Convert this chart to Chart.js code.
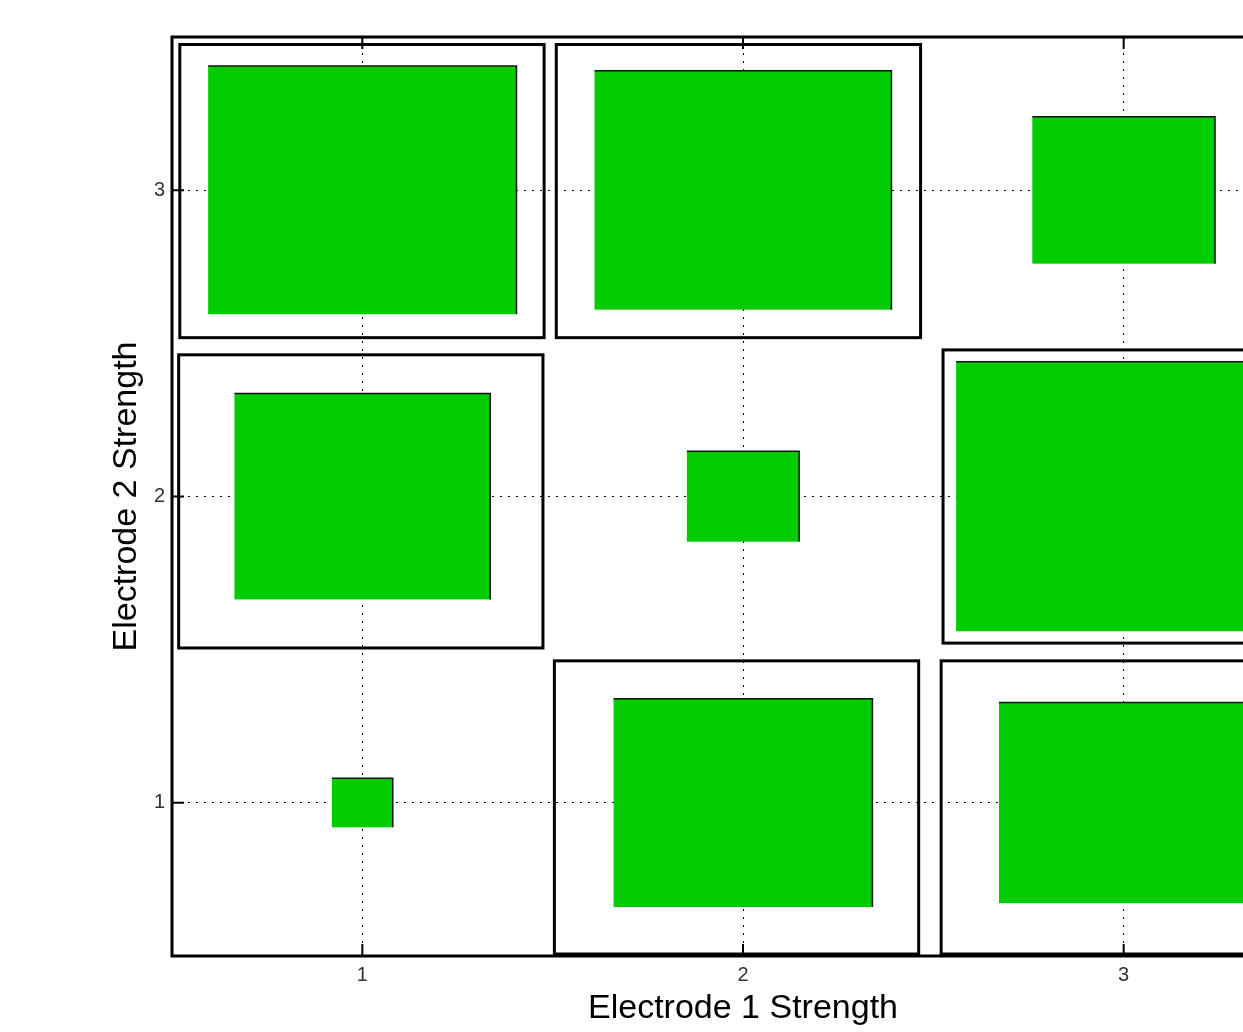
<!DOCTYPE html>
<html>
<head>
<meta charset="utf-8">
<script src="https://cdn.jsdelivr.net/npm/chart.js@4/dist/chart.umd.min.js"></script>
<style>
  html, body { margin: 0; padding: 0; background: #fff; overflow: hidden; }
  #wrap { width: 1330px; height: 1032px; }
</style>
</head>
<body>
<div id="wrap"><canvas id="c" width="1330" height="1032"></canvas></div>
<script>
// Stimulation levels on each axis
const electrode1Levels = [1, 2, 3];
const electrode2Levels = [1, 2, 3];
const tickLabels = ['1', '2', '3'];

// Side length of each response tile (data units), one list per Electrode 2 level,
// ordered by Electrode 1 level
const tileSideE2_1 = [0.16, 0.68, 0.655];
const tileSideE2_2 = [0.672, 0.295, 0.88];
const tileSideE2_3 = [0.81, 0.78, 0.48];

// Centres of the framed (outlined) cells
const frameCenterE1 = [0.999, 1.988, 0.996, 3.004, 1.983, 2.999];
const frameCenterE2 = [2.997, 2.997, 1.984, 2.0, 0.985, 0.985];
const frameSide = 0.957;

const FONT = "'Liberation Sans', Arial, sans-serif";

const tilePoints = [];
[tileSideE2_1, tileSideE2_2, tileSideE2_3].forEach((row, r) => {
  row.forEach((s, c) => tilePoints.push({ x: electrode1Levels[c], y: electrode2Levels[r], s }));
});
const framePoints = frameCenterE1.map((x, i) => ({ x, y: frameCenterE2[i], s: frameSide }));

// Draws every dataset point as a square of side p.s centred on (p.x, p.y)
const squaresPlugin = {
  id: 'squares',
  afterDatasetsDraw(chart) {
    const { ctx, scales: { x, y } } = chart;
    ctx.save();
    chart.data.datasets.forEach(ds => {
      ds.data.forEach(p => {
        const l = x.getPixelForValue(p.x - p.s / 2);
        const r = x.getPixelForValue(p.x + p.s / 2);
        const t = y.getPixelForValue(p.y + p.s / 2);
        const b = y.getPixelForValue(p.y - p.s / 2);
        if (ds.kind === 'frame') {
          ctx.lineWidth = 3;
          ctx.strokeStyle = '#000';
          ctx.strokeRect(l, t, r - l, b - t);
        } else {
          ctx.fillStyle = '#00cc00';
          ctx.fillRect(l, t, r - l, b - t);
          // dark edge along the top and right sides
          ctx.lineWidth = 1.5;
          ctx.strokeStyle = '#111';
          ctx.beginPath();
          ctx.moveTo(l, t);
          ctx.lineTo(r, t);
          ctx.lineTo(r, b);
          ctx.stroke();
        }
      });
    });
    ctx.restore();
  },
  afterDraw(chart) {
    const { ctx, chartArea: a, scales: { x, y } } = chart;
    ctx.save();
    ctx.strokeStyle = '#000';
    // inward tick marks on all four sides
    ctx.lineWidth = 2;
    const len = 12;
    x.ticks.forEach(t => {
      const px = x.getPixelForValue(t.value);
      ctx.beginPath();
      ctx.moveTo(px, a.bottom); ctx.lineTo(px, a.bottom - len);
      ctx.moveTo(px, a.top); ctx.lineTo(px, a.top + len);
      ctx.stroke();
    });
    y.ticks.forEach(t => {
      const py = y.getPixelForValue(t.value);
      ctx.beginPath();
      ctx.moveTo(a.left, py); ctx.lineTo(a.left + len, py);
      ctx.moveTo(a.right, py); ctx.lineTo(a.right - len, py);
      ctx.stroke();
    });
    // axes box
    ctx.lineWidth = 3;
    ctx.strokeRect(a.left, a.top, a.right - a.left, a.bottom - a.top);
    ctx.restore();
  }
};

const setTicks = scale => {
  scale.ticks = tickLabels.map(v => ({ value: Number(v), label: v }));
};

new Chart(document.getElementById('c'), {
  type: 'scatter',
  data: {
    datasets: [
      { kind: 'frame', data: framePoints, pointRadius: 0, pointHoverRadius: 0 },
      { kind: 'tile', data: tilePoints, pointRadius: 0, pointHoverRadius: 0 }
    ]
  },
  options: {
    responsive: false,
    animation: false,
    devicePixelRatio: 1,
    layout: { padding: { top: 37, right: 16, left: 0, bottom: 0 } },
    plugins: { legend: { display: false }, tooltip: { enabled: false } },
    events: [],
    scales: {
      x: {
        type: 'linear',
        min: 0.5,
        max: 3.5,
        afterBuildTicks: setTicks,
        afterFit: s => { s.height = 76; },
        grid: { color: '#000', lineWidth: 1, drawTicks: false },
        border: { display: false, dash: [2, 6] },
        ticks: { font: { size: 20, family: FONT }, color: '#333', padding: 7, maxRotation: 0 },
        title: {
          display: true, text: 'Electrode 1 Strength', color: '#000',
          font: { size: 34, family: FONT }, padding: { top: 0, bottom: 3 }
        }
      },
      y: {
        type: 'linear',
        min: 0.5,
        max: 3.5,
        afterBuildTicks: setTicks,
        afterFit: s => { s.width = 172; },
        grid: { color: '#000', lineWidth: 1, drawTicks: false },
        border: { display: false, dash: [2, 6] },
        ticks: { font: { size: 20, family: FONT }, color: '#333', padding: 7 },
        title: {
          display: true, text: 'Electrode 2 Strength', color: '#000',
          font: { size: 34, family: FONT }, padding: { top: 106, bottom: 0 }
        }
      }
    }
  },
  plugins: [squaresPlugin]
});
</script>
</body>
</html>
